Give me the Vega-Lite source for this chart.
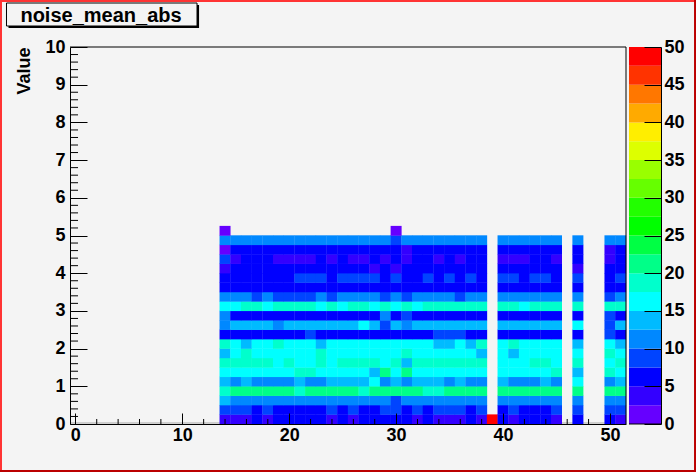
{"$schema":"https://vega.github.io/schema/vega-lite/v6.json","width":696,"height":472,"padding":0,"autosize":{"type":"none"},"background":"#f4f4f4","config":{"view":{"stroke":null},"font":"Liberation Sans"},
"datasets":{"cells":[
{"x":14,"y":0.125,"v":3.7},{"x":15,"y":0.125,"v":3.7},{"x":16,"y":0.125,"v":3.7},{"x":17,"y":0.125,"v":6.2},{"x":18,"y":0.125,"v":3.7},{"x":19,"y":0.125,"v":6.2},{"x":20,"y":0.125,"v":6.2},{"x":21,"y":0.125,"v":6.2},{"x":22,"y":0.125,"v":6.2},{"x":23,"y":0.125,"v":6.2},{"x":24,"y":0.125,"v":3.7},{"x":25,"y":0.125,"v":6.2},{"x":26,"y":0.125,"v":3.7},{"x":27,"y":0.125,"v":6.2},{"x":28,"y":0.125,"v":6.2},{"x":29,"y":0.125,"v":6.2},{"x":30,"y":0.125,"v":6.2},{"x":31,"y":0.125,"v":6.2},{"x":32,"y":0.125,"v":3.7},{"x":33,"y":0.125,"v":6.2},{"x":34,"y":0.125,"v":3.7},{"x":35,"y":0.125,"v":3.7},{"x":36,"y":0.125,"v":3.7},{"x":37,"y":0.125,"v":6.2},{"x":38,"y":0.125,"v":3.7},{"x":39,"y":0.125,"v":49},{"x":40,"y":0.125,"v":6.2},{"x":41,"y":0.125,"v":3.7},{"x":42,"y":0.125,"v":6.2},{"x":43,"y":0.125,"v":6.2},{"x":44,"y":0.125,"v":6.2},{"x":45,"y":0.125,"v":3.7},{"x":47,"y":0.125,"v":6.2},{"x":50,"y":0.125,"v":6.2},{"x":51,"y":0.125,"v":3.7},
{"x":14,"y":0.375,"v":8.7},{"x":15,"y":0.375,"v":8.7},{"x":16,"y":0.375,"v":8.7},{"x":17,"y":0.375,"v":6.2},{"x":18,"y":0.375,"v":8.7},{"x":19,"y":0.375,"v":6.2},{"x":20,"y":0.375,"v":6.2},{"x":21,"y":0.375,"v":6.2},{"x":22,"y":0.375,"v":6.2},{"x":23,"y":0.375,"v":6.2},{"x":24,"y":0.375,"v":8.7},{"x":25,"y":0.375,"v":6.2},{"x":26,"y":0.375,"v":8.7},{"x":27,"y":0.375,"v":6.2},{"x":28,"y":0.375,"v":6.2},{"x":29,"y":0.375,"v":8.7},{"x":30,"y":0.375,"v":8.7},{"x":31,"y":0.375,"v":6.2},{"x":32,"y":0.375,"v":8.7},{"x":33,"y":0.375,"v":6.2},{"x":34,"y":0.375,"v":8.7},{"x":35,"y":0.375,"v":8.7},{"x":36,"y":0.375,"v":8.7},{"x":37,"y":0.375,"v":6.2},{"x":38,"y":0.375,"v":8.7},{"x":40,"y":0.375,"v":6.2},{"x":41,"y":0.375,"v":8.7},{"x":42,"y":0.375,"v":6.2},{"x":43,"y":0.375,"v":6.2},{"x":44,"y":0.375,"v":6.2},{"x":45,"y":0.375,"v":8.7},{"x":47,"y":0.375,"v":8.7},{"x":50,"y":0.375,"v":8.7},{"x":51,"y":0.375,"v":8.7},
{"x":14,"y":0.625,"v":13.7},{"x":15,"y":0.625,"v":11.2},{"x":16,"y":0.625,"v":11.2},{"x":17,"y":0.625,"v":11.2},{"x":18,"y":0.625,"v":11.2},{"x":19,"y":0.625,"v":11.2},{"x":20,"y":0.625,"v":11.2},{"x":21,"y":0.625,"v":11.2},{"x":22,"y":0.625,"v":11.2},{"x":23,"y":0.625,"v":11.2},{"x":24,"y":0.625,"v":11.2},{"x":25,"y":0.625,"v":11.2},{"x":26,"y":0.625,"v":11.2},{"x":27,"y":0.625,"v":11.2},{"x":28,"y":0.625,"v":11.2},{"x":29,"y":0.625,"v":11.2},{"x":30,"y":0.625,"v":8.7},{"x":31,"y":0.625,"v":11.2},{"x":32,"y":0.625,"v":11.2},{"x":33,"y":0.625,"v":11.2},{"x":34,"y":0.625,"v":11.2},{"x":35,"y":0.625,"v":11.2},{"x":36,"y":0.625,"v":11.2},{"x":37,"y":0.625,"v":11.2},{"x":38,"y":0.625,"v":11.2},{"x":40,"y":0.625,"v":11.2},{"x":41,"y":0.625,"v":11.2},{"x":42,"y":0.625,"v":11.2},{"x":43,"y":0.625,"v":11.2},{"x":44,"y":0.625,"v":11.2},{"x":45,"y":0.625,"v":11.2},{"x":47,"y":0.625,"v":11.2},{"x":50,"y":0.625,"v":11.2},{"x":51,"y":0.625,"v":11.2},
{"x":14,"y":0.875,"v":18.7},{"x":15,"y":0.875,"v":21.2},{"x":16,"y":0.875,"v":21.2},{"x":17,"y":0.875,"v":21.2},{"x":18,"y":0.875,"v":21.2},{"x":19,"y":0.875,"v":21.2},{"x":20,"y":0.875,"v":21.2},{"x":21,"y":0.875,"v":18.7},{"x":22,"y":0.875,"v":21.2},{"x":23,"y":0.875,"v":21.2},{"x":24,"y":0.875,"v":21.2},{"x":25,"y":0.875,"v":21.2},{"x":26,"y":0.875,"v":21.2},{"x":27,"y":0.875,"v":18.7},{"x":28,"y":0.875,"v":21.2},{"x":29,"y":0.875,"v":21.2},{"x":30,"y":0.875,"v":21.2},{"x":31,"y":0.875,"v":21.2},{"x":32,"y":0.875,"v":21.2},{"x":33,"y":0.875,"v":18.7},{"x":34,"y":0.875,"v":18.7},{"x":35,"y":0.875,"v":21.2},{"x":36,"y":0.875,"v":21.2},{"x":37,"y":0.875,"v":21.2},{"x":38,"y":0.875,"v":21.2},{"x":40,"y":0.875,"v":21.2},{"x":41,"y":0.875,"v":21.2},{"x":42,"y":0.875,"v":21.2},{"x":43,"y":0.875,"v":21.2},{"x":44,"y":0.875,"v":21.2},{"x":45,"y":0.875,"v":21.2},{"x":47,"y":0.875,"v":21.2},{"x":50,"y":0.875,"v":21.2},{"x":51,"y":0.875,"v":21.2},
{"x":14,"y":1.125,"v":13.7},{"x":15,"y":1.125,"v":11.2},{"x":16,"y":1.125,"v":13.7},{"x":17,"y":1.125,"v":11.2},{"x":18,"y":1.125,"v":11.2},{"x":19,"y":1.125,"v":11.2},{"x":20,"y":1.125,"v":11.2},{"x":21,"y":1.125,"v":13.7},{"x":22,"y":1.125,"v":11.2},{"x":23,"y":1.125,"v":11.2},{"x":24,"y":1.125,"v":13.7},{"x":25,"y":1.125,"v":13.7},{"x":26,"y":1.125,"v":13.7},{"x":27,"y":1.125,"v":13.7},{"x":28,"y":1.125,"v":16.2},{"x":29,"y":1.125,"v":11.2},{"x":30,"y":1.125,"v":13.7},{"x":31,"y":1.125,"v":11.2},{"x":32,"y":1.125,"v":13.7},{"x":33,"y":1.125,"v":13.7},{"x":34,"y":1.125,"v":13.7},{"x":35,"y":1.125,"v":11.2},{"x":36,"y":1.125,"v":13.7},{"x":37,"y":1.125,"v":11.2},{"x":38,"y":1.125,"v":11.2},{"x":40,"y":1.125,"v":13.7},{"x":41,"y":1.125,"v":11.2},{"x":42,"y":1.125,"v":11.2},{"x":43,"y":1.125,"v":11.2},{"x":44,"y":1.125,"v":13.7},{"x":45,"y":1.125,"v":11.2},{"x":47,"y":1.125,"v":16.2},{"x":50,"y":1.125,"v":11.2},{"x":51,"y":1.125,"v":13.7},
{"x":14,"y":1.375,"v":16.2},{"x":15,"y":1.375,"v":16.2},{"x":16,"y":1.375,"v":16.2},{"x":17,"y":1.375,"v":16.2},{"x":18,"y":1.375,"v":16.2},{"x":19,"y":1.375,"v":16.2},{"x":20,"y":1.375,"v":16.2},{"x":21,"y":1.375,"v":18.7},{"x":22,"y":1.375,"v":18.7},{"x":23,"y":1.375,"v":16.2},{"x":24,"y":1.375,"v":16.2},{"x":25,"y":1.375,"v":16.2},{"x":26,"y":1.375,"v":16.2},{"x":27,"y":1.375,"v":16.2},{"x":28,"y":1.375,"v":13.7},{"x":29,"y":1.375,"v":21.2},{"x":30,"y":1.375,"v":16.2},{"x":31,"y":1.375,"v":21.2},{"x":32,"y":1.375,"v":16.2},{"x":33,"y":1.375,"v":16.2},{"x":34,"y":1.375,"v":16.2},{"x":35,"y":1.375,"v":16.2},{"x":36,"y":1.375,"v":16.2},{"x":37,"y":1.375,"v":16.2},{"x":38,"y":1.375,"v":16.2},{"x":40,"y":1.375,"v":16.2},{"x":41,"y":1.375,"v":16.2},{"x":42,"y":1.375,"v":16.2},{"x":43,"y":1.375,"v":16.2},{"x":44,"y":1.375,"v":16.2},{"x":45,"y":1.375,"v":18.7},{"x":47,"y":1.375,"v":13.7},{"x":50,"y":1.375,"v":18.7},{"x":51,"y":1.375,"v":16.2},
{"x":14,"y":1.625,"v":18.7},{"x":15,"y":1.625,"v":18.7},{"x":16,"y":1.625,"v":18.7},{"x":17,"y":1.625,"v":18.7},{"x":18,"y":1.625,"v":18.7},{"x":19,"y":1.625,"v":16.2},{"x":20,"y":1.625,"v":18.7},{"x":21,"y":1.625,"v":16.2},{"x":22,"y":1.625,"v":16.2},{"x":23,"y":1.625,"v":18.7},{"x":24,"y":1.625,"v":16.2},{"x":25,"y":1.625,"v":18.7},{"x":26,"y":1.625,"v":18.7},{"x":27,"y":1.625,"v":18.7},{"x":28,"y":1.625,"v":18.7},{"x":29,"y":1.625,"v":16.2},{"x":30,"y":1.625,"v":18.7},{"x":31,"y":1.625,"v":13.7},{"x":32,"y":1.625,"v":18.7},{"x":33,"y":1.625,"v":18.7},{"x":34,"y":1.625,"v":18.7},{"x":35,"y":1.625,"v":18.7},{"x":36,"y":1.625,"v":18.7},{"x":37,"y":1.625,"v":18.7},{"x":38,"y":1.625,"v":18.7},{"x":40,"y":1.625,"v":16.2},{"x":41,"y":1.625,"v":16.2},{"x":42,"y":1.625,"v":16.2},{"x":43,"y":1.625,"v":18.7},{"x":44,"y":1.625,"v":18.7},{"x":45,"y":1.625,"v":16.2},{"x":47,"y":1.625,"v":18.7},{"x":50,"y":1.625,"v":16.2},{"x":51,"y":1.625,"v":18.7},
{"x":14,"y":1.875,"v":13.7},{"x":15,"y":1.875,"v":16.2},{"x":16,"y":1.875,"v":18.7},{"x":17,"y":1.875,"v":16.2},{"x":18,"y":1.875,"v":16.2},{"x":19,"y":1.875,"v":16.2},{"x":20,"y":1.875,"v":16.2},{"x":21,"y":1.875,"v":16.2},{"x":22,"y":1.875,"v":16.2},{"x":23,"y":1.875,"v":18.7},{"x":24,"y":1.875,"v":16.2},{"x":25,"y":1.875,"v":16.2},{"x":26,"y":1.875,"v":16.2},{"x":27,"y":1.875,"v":16.2},{"x":28,"y":1.875,"v":16.2},{"x":29,"y":1.875,"v":16.2},{"x":30,"y":1.875,"v":16.2},{"x":31,"y":1.875,"v":18.7},{"x":32,"y":1.875,"v":16.2},{"x":33,"y":1.875,"v":16.2},{"x":34,"y":1.875,"v":16.2},{"x":35,"y":1.875,"v":16.2},{"x":36,"y":1.875,"v":16.2},{"x":37,"y":1.875,"v":16.2},{"x":38,"y":1.875,"v":13.7},{"x":40,"y":1.875,"v":16.2},{"x":41,"y":1.875,"v":13.7},{"x":42,"y":1.875,"v":16.2},{"x":43,"y":1.875,"v":16.2},{"x":44,"y":1.875,"v":16.2},{"x":45,"y":1.875,"v":16.2},{"x":47,"y":1.875,"v":16.2},{"x":50,"y":1.875,"v":18.7},{"x":51,"y":1.875,"v":16.2},
{"x":14,"y":2.125,"v":18.7},{"x":15,"y":2.125,"v":16.2},{"x":16,"y":2.125,"v":13.7},{"x":17,"y":2.125,"v":16.2},{"x":18,"y":2.125,"v":16.2},{"x":19,"y":2.125,"v":18.7},{"x":20,"y":2.125,"v":16.2},{"x":21,"y":2.125,"v":16.2},{"x":22,"y":2.125,"v":16.2},{"x":23,"y":2.125,"v":13.7},{"x":24,"y":2.125,"v":16.2},{"x":25,"y":2.125,"v":16.2},{"x":26,"y":2.125,"v":16.2},{"x":27,"y":2.125,"v":16.2},{"x":28,"y":2.125,"v":16.2},{"x":29,"y":2.125,"v":16.2},{"x":30,"y":2.125,"v":16.2},{"x":31,"y":2.125,"v":16.2},{"x":32,"y":2.125,"v":16.2},{"x":33,"y":2.125,"v":16.2},{"x":34,"y":2.125,"v":13.7},{"x":35,"y":2.125,"v":13.7},{"x":36,"y":2.125,"v":16.2},{"x":37,"y":2.125,"v":13.7},{"x":38,"y":2.125,"v":18.7},{"x":40,"y":2.125,"v":16.2},{"x":41,"y":2.125,"v":18.7},{"x":42,"y":2.125,"v":16.2},{"x":43,"y":2.125,"v":16.2},{"x":44,"y":2.125,"v":16.2},{"x":45,"y":2.125,"v":16.2},{"x":47,"y":2.125,"v":13.7},{"x":50,"y":2.125,"v":16.2},{"x":51,"y":2.125,"v":13.7},
{"x":14,"y":2.375,"v":6.2},{"x":15,"y":2.375,"v":6.2},{"x":16,"y":2.375,"v":6.2},{"x":17,"y":2.375,"v":6.2},{"x":18,"y":2.375,"v":6.2},{"x":19,"y":2.375,"v":6.2},{"x":20,"y":2.375,"v":6.2},{"x":21,"y":2.375,"v":6.2},{"x":22,"y":2.375,"v":8.7},{"x":23,"y":2.375,"v":6.2},{"x":24,"y":2.375,"v":6.2},{"x":25,"y":2.375,"v":6.2},{"x":26,"y":2.375,"v":6.2},{"x":27,"y":2.375,"v":6.2},{"x":28,"y":2.375,"v":6.2},{"x":29,"y":2.375,"v":6.2},{"x":30,"y":2.375,"v":6.2},{"x":31,"y":2.375,"v":6.2},{"x":32,"y":2.375,"v":6.2},{"x":33,"y":2.375,"v":6.2},{"x":34,"y":2.375,"v":8.7},{"x":35,"y":2.375,"v":8.7},{"x":36,"y":2.375,"v":8.7},{"x":37,"y":2.375,"v":6.2},{"x":38,"y":2.375,"v":6.2},{"x":40,"y":2.375,"v":6.2},{"x":41,"y":2.375,"v":6.2},{"x":42,"y":2.375,"v":6.2},{"x":43,"y":2.375,"v":6.2},{"x":44,"y":2.375,"v":6.2},{"x":45,"y":2.375,"v":6.2},{"x":47,"y":2.375,"v":6.2},{"x":50,"y":2.375,"v":8.7},{"x":51,"y":2.375,"v":6.2},
{"x":14,"y":2.625,"v":11.2},{"x":15,"y":2.625,"v":13.7},{"x":16,"y":2.625,"v":13.7},{"x":17,"y":2.625,"v":13.7},{"x":18,"y":2.625,"v":13.7},{"x":19,"y":2.625,"v":11.2},{"x":20,"y":2.625,"v":13.7},{"x":21,"y":2.625,"v":13.7},{"x":22,"y":2.625,"v":13.7},{"x":23,"y":2.625,"v":13.7},{"x":24,"y":2.625,"v":13.7},{"x":25,"y":2.625,"v":13.7},{"x":26,"y":2.625,"v":13.7},{"x":27,"y":2.625,"v":16.2},{"x":28,"y":2.625,"v":13.7},{"x":29,"y":2.625,"v":8.7},{"x":30,"y":2.625,"v":13.7},{"x":31,"y":2.625,"v":11.2},{"x":32,"y":2.625,"v":13.7},{"x":33,"y":2.625,"v":13.7},{"x":34,"y":2.625,"v":13.7},{"x":35,"y":2.625,"v":13.7},{"x":36,"y":2.625,"v":13.7},{"x":37,"y":2.625,"v":13.7},{"x":38,"y":2.625,"v":13.7},{"x":40,"y":2.625,"v":13.7},{"x":41,"y":2.625,"v":13.7},{"x":42,"y":2.625,"v":13.7},{"x":43,"y":2.625,"v":13.7},{"x":44,"y":2.625,"v":13.7},{"x":45,"y":2.625,"v":13.7},{"x":47,"y":2.625,"v":16.2},{"x":50,"y":2.625,"v":8.7},{"x":51,"y":2.625,"v":13.7},
{"x":14,"y":2.875,"v":11.2},{"x":15,"y":2.875,"v":6.2},{"x":16,"y":2.875,"v":6.2},{"x":17,"y":2.875,"v":6.2},{"x":18,"y":2.875,"v":6.2},{"x":19,"y":2.875,"v":6.2},{"x":20,"y":2.875,"v":6.2},{"x":21,"y":2.875,"v":6.2},{"x":22,"y":2.875,"v":6.2},{"x":23,"y":2.875,"v":6.2},{"x":24,"y":2.875,"v":6.2},{"x":25,"y":2.875,"v":6.2},{"x":26,"y":2.875,"v":6.2},{"x":27,"y":2.875,"v":6.2},{"x":28,"y":2.875,"v":6.2},{"x":29,"y":2.875,"v":11.2},{"x":30,"y":2.875,"v":6.2},{"x":31,"y":2.875,"v":8.7},{"x":32,"y":2.875,"v":6.2},{"x":33,"y":2.875,"v":6.2},{"x":34,"y":2.875,"v":6.2},{"x":35,"y":2.875,"v":6.2},{"x":36,"y":2.875,"v":6.2},{"x":37,"y":2.875,"v":6.2},{"x":38,"y":2.875,"v":6.2},{"x":40,"y":2.875,"v":6.2},{"x":41,"y":2.875,"v":6.2},{"x":42,"y":2.875,"v":6.2},{"x":43,"y":2.875,"v":6.2},{"x":44,"y":2.875,"v":6.2},{"x":45,"y":2.875,"v":6.2},{"x":47,"y":2.875,"v":6.2},{"x":50,"y":2.875,"v":8.7},{"x":51,"y":2.875,"v":6.2},
{"x":14,"y":3.125,"v":16.2},{"x":15,"y":3.125,"v":16.2},{"x":16,"y":3.125,"v":18.7},{"x":17,"y":3.125,"v":18.7},{"x":18,"y":3.125,"v":16.2},{"x":19,"y":3.125,"v":18.7},{"x":20,"y":3.125,"v":18.7},{"x":21,"y":3.125,"v":18.7},{"x":22,"y":3.125,"v":18.7},{"x":23,"y":3.125,"v":16.2},{"x":24,"y":3.125,"v":18.7},{"x":25,"y":3.125,"v":16.2},{"x":26,"y":3.125,"v":18.7},{"x":27,"y":3.125,"v":18.7},{"x":28,"y":3.125,"v":16.2},{"x":29,"y":3.125,"v":18.7},{"x":30,"y":3.125,"v":16.2},{"x":31,"y":3.125,"v":18.7},{"x":32,"y":3.125,"v":16.2},{"x":33,"y":3.125,"v":18.7},{"x":34,"y":3.125,"v":18.7},{"x":35,"y":3.125,"v":18.7},{"x":36,"y":3.125,"v":18.7},{"x":37,"y":3.125,"v":18.7},{"x":38,"y":3.125,"v":18.7},{"x":40,"y":3.125,"v":18.7},{"x":41,"y":3.125,"v":18.7},{"x":42,"y":3.125,"v":16.2},{"x":43,"y":3.125,"v":18.7},{"x":44,"y":3.125,"v":18.7},{"x":45,"y":3.125,"v":18.7},{"x":47,"y":3.125,"v":18.7},{"x":50,"y":3.125,"v":18.7},{"x":51,"y":3.125,"v":18.7},
{"x":14,"y":3.375,"v":11.2},{"x":15,"y":3.375,"v":11.2},{"x":16,"y":3.375,"v":11.2},{"x":17,"y":3.375,"v":8.7},{"x":18,"y":3.375,"v":11.2},{"x":19,"y":3.375,"v":8.7},{"x":20,"y":3.375,"v":8.7},{"x":21,"y":3.375,"v":8.7},{"x":22,"y":3.375,"v":8.7},{"x":23,"y":3.375,"v":11.2},{"x":24,"y":3.375,"v":8.7},{"x":25,"y":3.375,"v":11.2},{"x":26,"y":3.375,"v":11.2},{"x":27,"y":3.375,"v":11.2},{"x":28,"y":3.375,"v":11.2},{"x":29,"y":3.375,"v":8.7},{"x":30,"y":3.375,"v":11.2},{"x":31,"y":3.375,"v":8.7},{"x":32,"y":3.375,"v":11.2},{"x":33,"y":3.375,"v":11.2},{"x":34,"y":3.375,"v":11.2},{"x":35,"y":3.375,"v":11.2},{"x":36,"y":3.375,"v":8.7},{"x":37,"y":3.375,"v":11.2},{"x":38,"y":3.375,"v":11.2},{"x":40,"y":3.375,"v":11.2},{"x":41,"y":3.375,"v":11.2},{"x":42,"y":3.375,"v":11.2},{"x":43,"y":3.375,"v":11.2},{"x":44,"y":3.375,"v":11.2},{"x":45,"y":3.375,"v":11.2},{"x":47,"y":3.375,"v":11.2},{"x":50,"y":3.375,"v":8.7},{"x":51,"y":3.375,"v":11.2},
{"x":14,"y":3.625,"v":6.2},{"x":15,"y":3.625,"v":6.2},{"x":16,"y":3.625,"v":6.2},{"x":17,"y":3.625,"v":6.2},{"x":18,"y":3.625,"v":6.2},{"x":19,"y":3.625,"v":6.2},{"x":20,"y":3.625,"v":6.2},{"x":21,"y":3.625,"v":6.2},{"x":22,"y":3.625,"v":6.2},{"x":23,"y":3.625,"v":6.2},{"x":24,"y":3.625,"v":6.2},{"x":25,"y":3.625,"v":6.2},{"x":26,"y":3.625,"v":6.2},{"x":27,"y":3.625,"v":6.2},{"x":28,"y":3.625,"v":6.2},{"x":29,"y":3.625,"v":6.2},{"x":30,"y":3.625,"v":6.2},{"x":31,"y":3.625,"v":6.2},{"x":32,"y":3.625,"v":6.2},{"x":33,"y":3.625,"v":6.2},{"x":34,"y":3.625,"v":6.2},{"x":35,"y":3.625,"v":6.2},{"x":36,"y":3.625,"v":6.2},{"x":37,"y":3.625,"v":6.2},{"x":38,"y":3.625,"v":6.2},{"x":40,"y":3.625,"v":6.2},{"x":41,"y":3.625,"v":6.2},{"x":42,"y":3.625,"v":6.2},{"x":43,"y":3.625,"v":6.2},{"x":44,"y":3.625,"v":6.2},{"x":45,"y":3.625,"v":6.2},{"x":47,"y":3.625,"v":6.2},{"x":50,"y":3.625,"v":6.2},{"x":51,"y":3.625,"v":6.2},
{"x":14,"y":3.875,"v":6.2},{"x":15,"y":3.875,"v":6.2},{"x":16,"y":3.875,"v":6.2},{"x":17,"y":3.875,"v":6.2},{"x":18,"y":3.875,"v":6.2},{"x":19,"y":3.875,"v":6.2},{"x":20,"y":3.875,"v":6.2},{"x":21,"y":3.875,"v":8.7},{"x":22,"y":3.875,"v":8.7},{"x":23,"y":3.875,"v":8.7},{"x":24,"y":3.875,"v":6.2},{"x":25,"y":3.875,"v":8.7},{"x":26,"y":3.875,"v":8.7},{"x":27,"y":3.875,"v":8.7},{"x":28,"y":3.875,"v":8.7},{"x":29,"y":3.875,"v":6.2},{"x":30,"y":3.875,"v":8.7},{"x":31,"y":3.875,"v":6.2},{"x":32,"y":3.875,"v":6.2},{"x":33,"y":3.875,"v":8.7},{"x":34,"y":3.875,"v":6.2},{"x":35,"y":3.875,"v":8.7},{"x":36,"y":3.875,"v":6.2},{"x":37,"y":3.875,"v":8.7},{"x":38,"y":3.875,"v":6.2},{"x":40,"y":3.875,"v":8.7},{"x":41,"y":3.875,"v":8.7},{"x":42,"y":3.875,"v":6.2},{"x":43,"y":3.875,"v":8.7},{"x":44,"y":3.875,"v":8.7},{"x":45,"y":3.875,"v":6.2},{"x":47,"y":3.875,"v":8.7},{"x":50,"y":3.875,"v":6.2},{"x":51,"y":3.875,"v":8.7},
{"x":14,"y":4.125,"v":3.7},{"x":15,"y":4.125,"v":6.2},{"x":16,"y":4.125,"v":6.2},{"x":17,"y":4.125,"v":6.2},{"x":18,"y":4.125,"v":6.2},{"x":19,"y":4.125,"v":6.2},{"x":20,"y":4.125,"v":6.2},{"x":21,"y":4.125,"v":6.2},{"x":22,"y":4.125,"v":6.2},{"x":23,"y":4.125,"v":6.2},{"x":24,"y":4.125,"v":6.2},{"x":25,"y":4.125,"v":6.2},{"x":26,"y":4.125,"v":6.2},{"x":27,"y":4.125,"v":6.2},{"x":28,"y":4.125,"v":3.7},{"x":29,"y":4.125,"v":6.2},{"x":30,"y":4.125,"v":3.7},{"x":31,"y":4.125,"v":6.2},{"x":32,"y":4.125,"v":6.2},{"x":33,"y":4.125,"v":6.2},{"x":34,"y":4.125,"v":6.2},{"x":35,"y":4.125,"v":6.2},{"x":36,"y":4.125,"v":6.2},{"x":37,"y":4.125,"v":6.2},{"x":38,"y":4.125,"v":6.2},{"x":40,"y":4.125,"v":6.2},{"x":41,"y":4.125,"v":6.2},{"x":42,"y":4.125,"v":6.2},{"x":43,"y":4.125,"v":6.2},{"x":44,"y":4.125,"v":6.2},{"x":45,"y":4.125,"v":6.2},{"x":47,"y":4.125,"v":3.7},{"x":50,"y":4.125,"v":6.2},{"x":51,"y":4.125,"v":6.2},
{"x":14,"y":4.375,"v":8.7},{"x":15,"y":4.375,"v":3.7},{"x":16,"y":4.375,"v":6.2},{"x":17,"y":4.375,"v":6.2},{"x":18,"y":4.375,"v":6.2},{"x":19,"y":4.375,"v":3.7},{"x":20,"y":4.375,"v":3.7},{"x":21,"y":4.375,"v":3.7},{"x":22,"y":4.375,"v":3.7},{"x":23,"y":4.375,"v":6.2},{"x":24,"y":4.375,"v":3.7},{"x":25,"y":4.375,"v":6.2},{"x":26,"y":4.375,"v":3.7},{"x":27,"y":4.375,"v":3.7},{"x":28,"y":4.375,"v":6.2},{"x":29,"y":4.375,"v":3.7},{"x":30,"y":4.375,"v":6.2},{"x":31,"y":4.375,"v":3.7},{"x":32,"y":4.375,"v":6.2},{"x":33,"y":4.375,"v":6.2},{"x":34,"y":4.375,"v":3.7},{"x":35,"y":4.375,"v":6.2},{"x":36,"y":4.375,"v":3.7},{"x":37,"y":4.375,"v":6.2},{"x":38,"y":4.375,"v":6.2},{"x":40,"y":4.375,"v":3.7},{"x":41,"y":4.375,"v":3.7},{"x":42,"y":4.375,"v":3.7},{"x":43,"y":4.375,"v":6.2},{"x":44,"y":4.375,"v":6.2},{"x":45,"y":4.375,"v":3.7},{"x":47,"y":4.375,"v":6.2},{"x":50,"y":4.375,"v":3.7},{"x":51,"y":4.375,"v":6.2},
{"x":14,"y":4.625,"v":1.2},{"x":15,"y":4.625,"v":6.2},{"x":16,"y":4.625,"v":6.2},{"x":17,"y":4.625,"v":6.2},{"x":18,"y":4.625,"v":6.2},{"x":19,"y":4.625,"v":6.2},{"x":20,"y":4.625,"v":6.2},{"x":21,"y":4.625,"v":6.2},{"x":22,"y":4.625,"v":6.2},{"x":23,"y":4.625,"v":6.2},{"x":24,"y":4.625,"v":6.2},{"x":25,"y":4.625,"v":6.2},{"x":26,"y":4.625,"v":6.2},{"x":27,"y":4.625,"v":6.2},{"x":28,"y":4.625,"v":6.2},{"x":29,"y":4.625,"v":6.2},{"x":30,"y":4.625,"v":6.2},{"x":31,"y":4.625,"v":3.7},{"x":32,"y":4.625,"v":6.2},{"x":33,"y":4.625,"v":6.2},{"x":34,"y":4.625,"v":6.2},{"x":35,"y":4.625,"v":6.2},{"x":36,"y":4.625,"v":6.2},{"x":37,"y":4.625,"v":6.2},{"x":38,"y":4.625,"v":6.2},{"x":40,"y":4.625,"v":6.2},{"x":41,"y":4.625,"v":6.2},{"x":42,"y":4.625,"v":6.2},{"x":43,"y":4.625,"v":6.2},{"x":44,"y":4.625,"v":6.2},{"x":45,"y":4.625,"v":6.2},{"x":47,"y":4.625,"v":6.2},{"x":50,"y":4.625,"v":3.7},{"x":51,"y":4.625,"v":6.2},
{"x":14,"y":4.875,"v":11.2},{"x":15,"y":4.875,"v":11.2},{"x":16,"y":4.875,"v":11.2},{"x":17,"y":4.875,"v":11.2},{"x":18,"y":4.875,"v":11.2},{"x":19,"y":4.875,"v":11.2},{"x":20,"y":4.875,"v":11.2},{"x":21,"y":4.875,"v":11.2},{"x":22,"y":4.875,"v":11.2},{"x":23,"y":4.875,"v":11.2},{"x":24,"y":4.875,"v":11.2},{"x":25,"y":4.875,"v":11.2},{"x":26,"y":4.875,"v":11.2},{"x":27,"y":4.875,"v":11.2},{"x":28,"y":4.875,"v":11.2},{"x":29,"y":4.875,"v":11.2},{"x":30,"y":4.875,"v":8.7},{"x":31,"y":4.875,"v":11.2},{"x":32,"y":4.875,"v":11.2},{"x":33,"y":4.875,"v":11.2},{"x":34,"y":4.875,"v":11.2},{"x":35,"y":4.875,"v":11.2},{"x":36,"y":4.875,"v":11.2},{"x":37,"y":4.875,"v":11.2},{"x":38,"y":4.875,"v":11.2},{"x":40,"y":4.875,"v":11.2},{"x":41,"y":4.875,"v":11.2},{"x":42,"y":4.875,"v":11.2},{"x":43,"y":4.875,"v":11.2},{"x":44,"y":4.875,"v":11.2},{"x":45,"y":4.875,"v":11.2},{"x":47,"y":4.875,"v":11.2},{"x":50,"y":4.875,"v":11.2},{"x":51,"y":4.875,"v":11.2},
{"x":14,"y":5.125,"v":1.2},{"x":30,"y":5.125,"v":1.2}
],
"xminor":[{"m":2},{"m":4},{"m":6},{"m":8},{"m":12},{"m":14},{"m":16},{"m":18},{"m":22},{"m":24},{"m":26},{"m":28},{"m":32},{"m":34},{"m":36},{"m":38},{"m":42},{"m":44},{"m":46},{"m":48}],
"yminor":[{"m":0.2},{"m":0.4},{"m":0.6},{"m":0.8},{"m":1.2},{"m":1.4},{"m":1.6},{"m":1.8},{"m":2.2},{"m":2.4},{"m":2.6},{"m":2.8},{"m":3.2},{"m":3.4},{"m":3.6},{"m":3.8},{"m":4.2},{"m":4.4},{"m":4.6},{"m":4.8},{"m":5.2},{"m":5.4},{"m":5.6},{"m":5.8},{"m":6.2},{"m":6.4},{"m":6.6},{"m":6.8},{"m":7.2},{"m":7.4},{"m":7.6},{"m":7.8},{"m":8.2},{"m":8.4},{"m":8.6},{"m":8.8},{"m":9.2},{"m":9.4},{"m":9.6},{"m":9.8}],
"palette":[{"lo":0,"hi":2.5,"v":1.2},{"lo":2.5,"hi":5,"v":3.7},{"lo":5,"hi":7.5,"v":6.2},{"lo":7.5,"hi":10,"v":8.7},{"lo":10,"hi":12.5,"v":11.2},{"lo":12.5,"hi":15,"v":13.7},{"lo":15,"hi":17.5,"v":16.2},{"lo":17.5,"hi":20,"v":18.7},{"lo":20,"hi":22.5,"v":21.2},{"lo":22.5,"hi":25,"v":23.7},{"lo":25,"hi":27.5,"v":26.2},{"lo":27.5,"hi":30,"v":28.7},{"lo":30,"hi":32.5,"v":31.2},{"lo":32.5,"hi":35,"v":33.7},{"lo":35,"hi":37.5,"v":36.2},{"lo":37.5,"hi":40,"v":38.7},{"lo":40,"hi":42.5,"v":41.2},{"lo":42.5,"hi":45,"v":43.7},{"lo":45,"hi":47.5,"v":46.2},{"lo":47.5,"hi":50,"v":48.7}]
},
"data":{"name":"cells"},
"layer":[
{"layer":[
{"data":{"values":[{}]},"mark":{"type":"rule","color":"#aaaaaa","strokeWidth":1},"encoding":{"x":{"datum":-0.5,"type":"quantitative","scale":{"domain":[-0.5,51.5],"range":[70,626],"nice":false,"zero":false},"axis":{"orient":"bottom","offset":-48,"title":null,"values":[0,10,20,30,40,50],"tickSize":-11,"tickColor":"black","domainColor":"black","labelColor":"black","labelFont":"Liberation Sans","labelFontWeight":"bold","labelFontSize":18,"labelPadding":13,"labelBaseline":"top","grid":false,"zindex":1}},"x2":{"datum":51.5},"y":{"datum":0.027,"type":"quantitative","scale":{"domain":[0,10],"range":[424,47],"nice":false,"zero":false},"axis":{"orient":"left","offset":-70,"title":"Value","titleFont":"Liberation Sans","titleFontWeight":"bold","titleFontSize":18,"titleColor":"black","titleAnchor":"end","titlePadding":11,"values":[0,1,2,3,4,5,6,7,8,9,10],"tickSize":-17,"tickColor":"black","domainColor":"black","labelColor":"black","labelFont":"Liberation Sans","labelFontWeight":"bold","labelFontSize":18,"labelPadding":22,"grid":false,"zindex":1}}}},
{"mark":{"type":"rect","width":11,"height":9.8},"encoding":{"x":{"field":"x","type":"quantitative"},"y":{"field":"y","type":"quantitative"},"color":{"field":"v","type":"quantitative","legend":null,"scale":{"type":"threshold","domain":[2.5,5,7.5,10,12.5,15,17.5,20,22.5,25,27.5,30,32.5,35,37.5,40,42.5,45,47.5],"range":["#6600ff","#3300ff","#0000ff","#0044ff","#0088ff","#00bbff","#00ffff","#00ffcc","#00ff88","#00ff44","#00ff00","#22ff00","#66ff00","#99ff00","#ddff00","#ffee00","#ffaa00","#ff7700","#ff3300","#ff0000"]}}}},
{"data":{"name":"xminor"},"mark":{"type":"rule","color":"black","strokeWidth":1},"encoding":{"x":{"field":"m","type":"quantitative"},"y":{"datum":0,"type":"quantitative"},"y2":{"datum":0.133}}},
{"data":{"name":"yminor"},"mark":{"type":"rule","color":"black","strokeWidth":1},"encoding":{"y":{"field":"m","type":"quantitative"},"x":{"datum":-0.5,"type":"quantitative"},"x2":{"datum":0.25}}},
{"data":{"values":[{}]},"mark":{"type":"rule","color":"black","strokeWidth":1},"encoding":{"x":{"datum":-0.5,"type":"quantitative"},"x2":{"datum":51.5},"y":{"datum":10,"type":"quantitative"}}},
{"data":{"values":[{}]},"mark":{"type":"rule","color":"black","strokeWidth":1},"encoding":{"x":{"datum":51.5,"type":"quantitative"},"y":{"datum":0,"type":"quantitative"},"y2":{"datum":10}}},
{"data":{"values":[{}]},"mark":{"type":"rect","fill":"black"},"encoding":{"x":{"datum":-6.25,"type":"quantitative"},"x2":{"datum":11.57},"y":{"datum":10.504,"type":"quantitative"},"y2":{"datum":11.114}}},
{"data":{"values":[{}]},"mark":{"type":"rect","fill":"#f4f4f4","stroke":"black","strokeWidth":1},"encoding":{"x":{"datum":-6.44,"type":"quantitative"},"x2":{"datum":11.38},"y":{"datum":10.557,"type":"quantitative"},"y2":{"datum":11.167}}},
{"data":{"values":[{"t":"noise_mean_abs"}]},"mark":{"type":"text","font":"Liberation Sans","fontWeight":"bold","fontSize":20,"color":"black","align":"center","baseline":"middle"},"encoding":{"text":{"field":"t"},"x":{"datum":2.4,"type":"quantitative"},"y":{"datum":10.82,"type":"quantitative"}}},
{"data":{"values":[{}]},"mark":{"type":"rule","color":"#ff3333","strokeWidth":4},"encoding":{"x":{"datum":-7.047,"type":"quantitative"},"y":{"datum":-1.273,"type":"quantitative"},"y2":{"datum":11.247}}},
{"data":{"values":[{}]},"mark":{"type":"rule","color":"#ff3333","strokeWidth":4},"encoding":{"y":{"datum":11.247,"type":"quantitative"},"x":{"datum":-7.047,"type":"quantitative"},"x2":{"datum":58.05}}},
{"data":{"values":[{}]},"mark":{"type":"rule","color":"#bb0000","strokeWidth":4},"encoding":{"x":{"datum":58.05,"type":"quantitative"},"y":{"datum":-1.273,"type":"quantitative"},"y2":{"datum":11.247}}},
{"data":{"values":[{}]},"mark":{"type":"rule","color":"#bb0000","strokeWidth":4},"encoding":{"y":{"datum":-1.273,"type":"quantitative"},"x":{"datum":-7.047,"type":"quantitative"},"x2":{"datum":58.05}}}
]},
{"layer":[
{"data":{"name":"palette"},"mark":{"type":"rect"},"encoding":{"x":{"datum":51.78,"type":"quantitative"},"x2":{"datum":54.78},"y":{"field":"lo","type":"quantitative","scale":{"domain":[0,50],"range":[424,47],"nice":false,"zero":false},"axis":{"orient":"right","offset":-35,"title":null,"values":[0,5,10,15,20,25,30,35,40,45,50],"tickSize":-17,"tickColor":"black","domainColor":"black","labelColor":"black","labelFont":"Liberation Sans","labelFontWeight":"bold","labelFontSize":18,"labelPadding":20,"grid":false,"zindex":1}},"y2":{"field":"hi"},"color":{"field":"v","type":"quantitative","legend":null,"scale":{"type":"threshold","domain":[2.5,5,7.5,10,12.5,15,17.5,20,22.5,25,27.5,30,32.5,35,37.5,40,42.5,45,47.5],"range":["#6600ff","#3300ff","#0000ff","#0044ff","#0088ff","#00bbff","#00ffff","#00ffcc","#00ff88","#00ff44","#00ff00","#22ff00","#66ff00","#99ff00","#ddff00","#ffee00","#ffaa00","#ff7700","#ff3300","#ff0000"]}}}},
{"data":{"values":[{}]},"mark":{"type":"rule","color":"black","strokeWidth":1},"encoding":{"x":{"datum":51.78,"type":"quantitative"},"x2":{"datum":54.78},"y":{"datum":0,"type":"quantitative"}}}
]}
],
"resolve":{"scale":{"y":"independent","color":"shared"},"axis":{"y":"independent"}}}
